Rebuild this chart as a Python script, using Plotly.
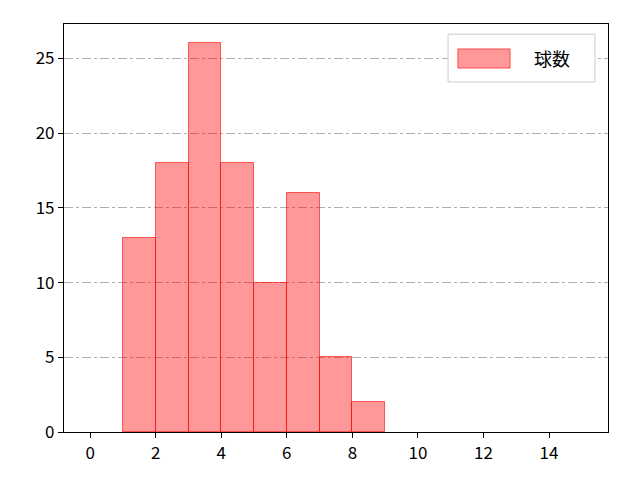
import plotly.graph_objects as go

# histogram bins (left edges) and counts
bin_left = [1, 2, 3, 4, 5, 6, 7, 8]
counts = [13, 18, 26, 18, 10, 16, 5, 2]
x_ticks = [0, 2, 4, 6, 8, 10, 12, 14]
y_ticks = [0, 5, 10, 15, 20, 25]
series_name = "球数"

fig = go.Figure()

fig.add_trace(go.Bar(
    x=[b + 0.5 for b in bin_left],
    y=counts,
    width=1,
    name=series_name,
    marker=dict(color="rgba(255,0,0,0.4)", line=dict(color="rgba(255,0,0,0.6)", width=1)),
    showlegend=False,
))

# matplotlib-style legend drawn by hand (wide swatch)
fig.add_shape(type="rect", xref="paper", yref="paper",
              x0=0.706, x1=0.976, y0=0.858, y1=0.975,
              line=dict(color="#cccccc", width=1), fillcolor="white", layer="above")
fig.add_shape(type="rect", xref="paper", yref="paper",
              x0=0.724, x1=0.820, y0=0.892, y1=0.939,
              line=dict(color="rgba(255,0,0,0.6)", width=1),
              fillcolor="rgba(255,0,0,0.4)", layer="above")
fig.add_annotation(xref="paper", yref="paper", x=0.860, y=0.917,
                   xanchor="left", yanchor="middle", text=series_name,
                   showarrow=False, font=dict(size=18))

fig.update_layout(
    width=640, height=480,
    margin=dict(l=56, r=40, t=16, b=56),
    plot_bgcolor="white", paper_bgcolor="white",
    font=dict(family="Noto Sans CJK JP, DejaVu Sans", size=17, color="black"),
    bargap=0,
)

fig.update_xaxes(
    range=[-0.8, 15.8],
    tickvals=x_ticks,
    ticks="outside", ticklen=5, tickcolor="black",
    showline=True, linecolor="black", linewidth=1.2, mirror=True,
    showgrid=False, zeroline=False,
)
fig.update_yaxes(
    range=[0, 27.3],
    tickvals=y_ticks,
    ticks="outside", ticklen=5, tickcolor="black",
    showline=True, linecolor="black", linewidth=1.2, mirror=True,
    showgrid=True, gridcolor="#b0b0b0", griddash="dashdot", gridwidth=1,
    zeroline=False,
)

fig.write_html("out.html")
